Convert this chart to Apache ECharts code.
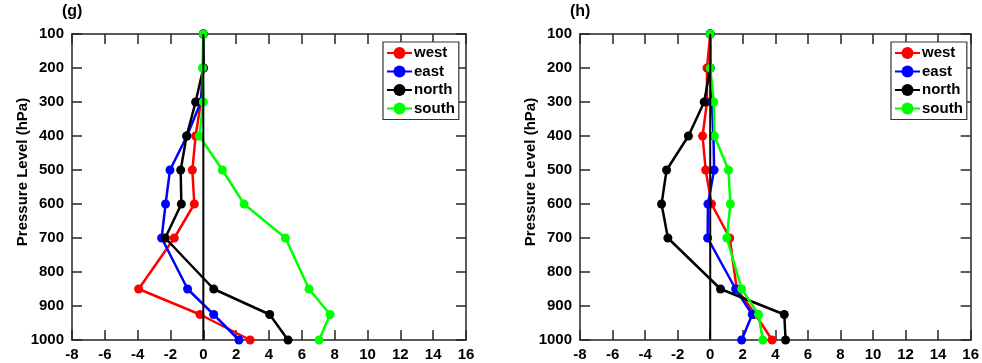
<!DOCTYPE html>
<html>
<head>
<meta charset="utf-8">
<script src="https://cdn.jsdelivr.net/npm/echarts@6/dist/echarts.min.js"></script>
<style>
html,body{margin:0;padding:0;background:#fff;}
#chart{width:982px;height:363px;}
</style>
</head>
<body>
<div id="chart"></div>
<script>
// Pressure levels (hPa)
const levels = [100, 200, 300, 400, 500, 600, 700, 850, 925, 1000];
const seriesNames = ['west', 'east', 'north', 'south'];
const panelTitles = ['(g)', '(h)'];
const yAxisName = 'Pressure Level (hPa)';

// Panel (g)
const gWest  = [0, 0, -0.15, -0.47, -0.67, -0.55, -1.77, -3.94, -0.2, 2.85];
const gEast  = [0, 0, -0.15, -1.0, -2.03, -2.3, -2.54, -0.96, 0.63, 2.17];
const gNorth = [0, 0, -0.47, -1.02, -1.38, -1.34, -2.32, 0.63, 4.04, 5.16];
const gSouth = [0, -0.05, 0, -0.24, 1.16, 2.48, 5.0, 6.44, 7.72, 7.05];

// Panel (h)
const hWest  = [0, -0.2, -0.2, -0.47, -0.28, 0.08, 1.2, 1.63, 2.78, 3.8];
const hEast  = [0, 0, 0.1, 0.2, 0.24, -0.14, -0.16, 1.56, 2.58, 1.93];
const hNorth = [0, 0, -0.37, -1.34, -2.68, -2.99, -2.6, 0.63, 4.55, 4.63];
const hSouth = [0, 0, 0.22, 0.26, 1.12, 1.24, 1.02, 1.93, 2.97, 3.23];

const colors = ['#ff0000', '#0000ff', '#000000', '#00ff00'];
const panels = [[gWest, gEast, gNorth, gSouth], [hWest, hEast, hNorth, hSouth]];

const FONT = '"Liberation Sans", Arial, Helvetica, sans-serif';
const AX = '#262626';

const grids = [
  {left: 72, top: 34, width: 394, height: 306},
  {left: 580, top: 34, width: 393, height: 306}
];

const xAxes = [], yAxes = [], series = [], legends = [], graphics = [];

grids.forEach((g, i) => {
  const xBase = {
    type: 'value', gridIndex: i, min: -8, max: 16, interval: 2,
    axisLine: {show: true, onZero: false, lineStyle: {color: AX, width: 1.5}},
    axisTick: {show: true, inside: true, length: 10, lineStyle: {color: AX, width: 1.5}},
    splitLine: {show: false}
  };
  xAxes.push(Object.assign({}, xBase, {
    position: 'bottom',
    axisLabel: {show: true, color: '#000', fontFamily: FONT, fontWeight: 'bold', fontSize: 15, margin: 7,
      formatter: v => String(v)}
  }));
  xAxes.push(Object.assign({}, xBase, {position: 'top', axisLabel: {show: false}}));
  const yBase = {
    type: 'value', gridIndex: i, min: 100, max: 1000, interval: 100, inverse: true,
    axisLine: {show: true, onZero: false, lineStyle: {color: AX, width: 1.5}},
    axisTick: {show: true, inside: true, length: 10, lineStyle: {color: AX, width: 1.5}},
    splitLine: {show: false}
  };
  yAxes.push(Object.assign({}, yBase, {
    position: 'left',
    axisLabel: {show: true, color: '#000', fontFamily: FONT, fontWeight: 'bold', fontSize: 15, margin: 8,
      formatter: v => String(v)}
  }));
  yAxes.push(Object.assign({}, yBase, {position: 'right', axisLabel: {show: false}}));

  panels[i].forEach((vals, k) => {
    series.push({
      name: seriesNames[k], type: 'line',
      xAxisIndex: i * 2, yAxisIndex: i * 2,
      data: vals.map((v, j) => [v, levels[j]]),
      symbol: 'circle', symbolSize: 9,
      itemStyle: {color: colors[k]},
      lineStyle: {color: colors[k], width: 2.5},
      z: 2 + k, animation: false
    });
  });
  series.push({
    name: 'zero', type: 'line', xAxisIndex: i * 2, yAxisIndex: i * 2,
    data: [[0, levels[0]], [0, levels[levels.length - 1]]],
    symbol: 'none', lineStyle: {color: '#000', width: 2}, z: 10, animation: false, silent: true
  });

  legends.push({
    orient: 'vertical',
    left: i === 0 ? 383 : 891, top: 42,
    data: seriesNames,
    itemWidth: 25, itemHeight: 15, itemGap: 3.5,
    padding: [3.5, 4, 3.5, 3],
    borderColor: '#333', borderWidth: 1.2, backgroundColor: '#fff',
    textStyle: {color: '#000', fontFamily: FONT, fontWeight: 'bold', fontSize: 15, lineHeight: 15, padding: [0, 0, 0, -3]},
    selectedMode: false
  });

  graphics.push({
    type: 'text', left: g.left - 10, top: 4,
    style: {text: panelTitles[i], font: 'bold 16px ' + FONT, fill: '#000'}
  });
  graphics.push({
    type: 'text', x: i === 0 ? 23 : 531, y: 172, rotation: Math.PI / 2,
    style: {text: yAxisName, font: 'bold 15px ' + FONT, fill: '#000', align: 'center', verticalAlign: 'middle'}
  });
});

const chart = echarts.init(document.getElementById('chart'), null, {renderer: 'canvas'});
chart.setOption({
  backgroundColor: '#fff',
  animation: false,
  grid: grids,
  xAxis: xAxes,
  yAxis: yAxes,
  legend: legends,
  series: series,
  graphic: graphics
});
</script>
</body>
</html>
